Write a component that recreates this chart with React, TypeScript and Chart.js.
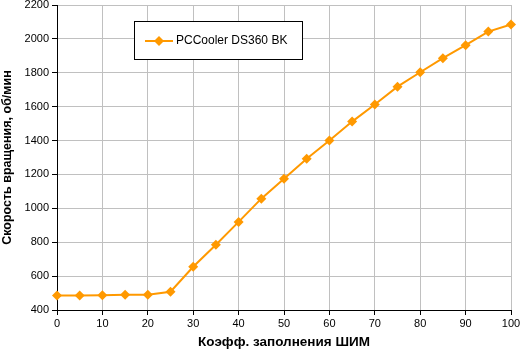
import React, { useEffect, useRef } from "react";
import { Chart, registerables } from "chart.js";

Chart.register(...registerables);

const duty = [0, 5, 10, 15, 20, 25, 30, 35, 40, 45, 50, 55, 60, 65, 70, 75, 80, 85, 90, 95, 100];
const rpm = [485, 485, 487, 490, 490, 508, 655, 785, 920, 1057, 1175, 1293, 1400, 1512, 1613, 1718, 1803, 1886, 1963, 2043, 2085];
const seriesName = "PCCooler DS360 BK";
const xTitle = "Коэфф. заполнения ШИМ";
const yTitle = "Скорость вращения, об/мин";
const ORANGE = "#FF9900";

const legendBoxPlugin = {
  id: "legendBox",
  afterDraw(chart: any) {
    const ctx = chart.ctx;
    ctx.save();
    const x = 134.5, y = 21.5, w = 168, h = 38;
    ctx.fillStyle = "#ffffff";
    ctx.fillRect(x, y, w, h);
    ctx.strokeStyle = "#000000";
    ctx.lineWidth = 1;
    ctx.strokeRect(x, y, w, h);
    const cy = 41;
    ctx.strokeStyle = ORANGE;
    ctx.lineWidth = 2;
    ctx.beginPath();
    ctx.moveTo(145, cy);
    ctx.lineTo(173, cy);
    ctx.stroke();
    ctx.fillStyle = ORANGE;
    ctx.beginPath();
    ctx.moveTo(159, cy - 5);
    ctx.lineTo(164, cy);
    ctx.lineTo(159, cy + 5);
    ctx.lineTo(154, cy);
    ctx.closePath();
    ctx.fill();
    ctx.fillStyle = "#000000";
    ctx.font = "12px 'Liberation Sans', Arial, sans-serif";
    ctx.textBaseline = "middle";
    ctx.textAlign = "left";
    ctx.fillText(seriesName, 176, cy);
    ctx.restore();
  },
};

export default function App() {
  const ref = useRef<HTMLCanvasElement | null>(null);
  useEffect(() => {
    document.body.style.margin = "0";
    const canvas = ref.current!;
    const font = { family: "'Liberation Sans', Arial, sans-serif", size: 11 };
    const chart = new Chart(canvas, {
      type: "line",
      data: {
        datasets: [
          {
            label: seriesName,
            data: duty.map((d, i) => ({ x: d, y: rpm[i] })),
            borderColor: ORANGE,
            backgroundColor: ORANGE,
            borderWidth: 2,
            pointStyle: "rectRot",
            pointRadius: 5,
            pointHoverRadius: 5,
            pointBorderWidth: 0,
            tension: 0,
            clip: false as any,
          },
        ],
      },
      options: {
        animation: false,
        responsive: false,
        events: [],
        layout: { padding: { left: 0, right: 9, top: 5, bottom: 0 } },
        plugins: {
          legend: { display: false },
          tooltip: { enabled: false },
        },
        scales: {
          x: {
            type: "linear",
            min: 0,
            max: 100,
            ticks: { stepSize: 10, color: "#000", font, padding: 2, maxRotation: 0, callback: (v: any) => String(v) },
            grid: { color: "#C0C0C0", tickColor: "#000", tickLength: 5, lineWidth: 1 },
            border: { color: "#000", width: 1 },
            title: {
              display: true,
              text: xTitle,
              color: "#000",
              font: { family: "'Liberation Sans', Arial, sans-serif", size: 13.5, weight: "bold" },
              padding: { top: 2, bottom: 5 },
            },
            afterFit: (s: any) => {
              s.height = 45;
              s.paddingLeft = 0;
              s.paddingRight = 0;
            },
          },
          y: {
            type: "linear",
            min: 400,
            max: 2200,
            ticks: { stepSize: 200, color: "#000", font, padding: 3, callback: (v: any) => String(v) },
            grid: { color: "#C0C0C0", tickColor: "#000", tickLength: 5, lineWidth: 1 },
            border: { color: "#000", width: 1 },
            title: {
              display: true,
              text: yTitle,
              color: "#000",
              font: { family: "'Liberation Sans', Arial, sans-serif", size: 12.5, weight: "bold" },
              padding: { top: 0, bottom: 2 },
            },
            afterFit: (s: any) => {
              s.width = 57;
              s.paddingTop = 0;
              s.paddingBottom = 0;
            },
          },
        },
      },
      plugins: [legendBoxPlugin],
    });
    return () => chart.destroy();
  }, []);
  return (
    <div style={{ width: 520, height: 355, background: "#fff" }}>
      <canvas ref={ref} width={520} height={355} />
    </div>
  );
}
